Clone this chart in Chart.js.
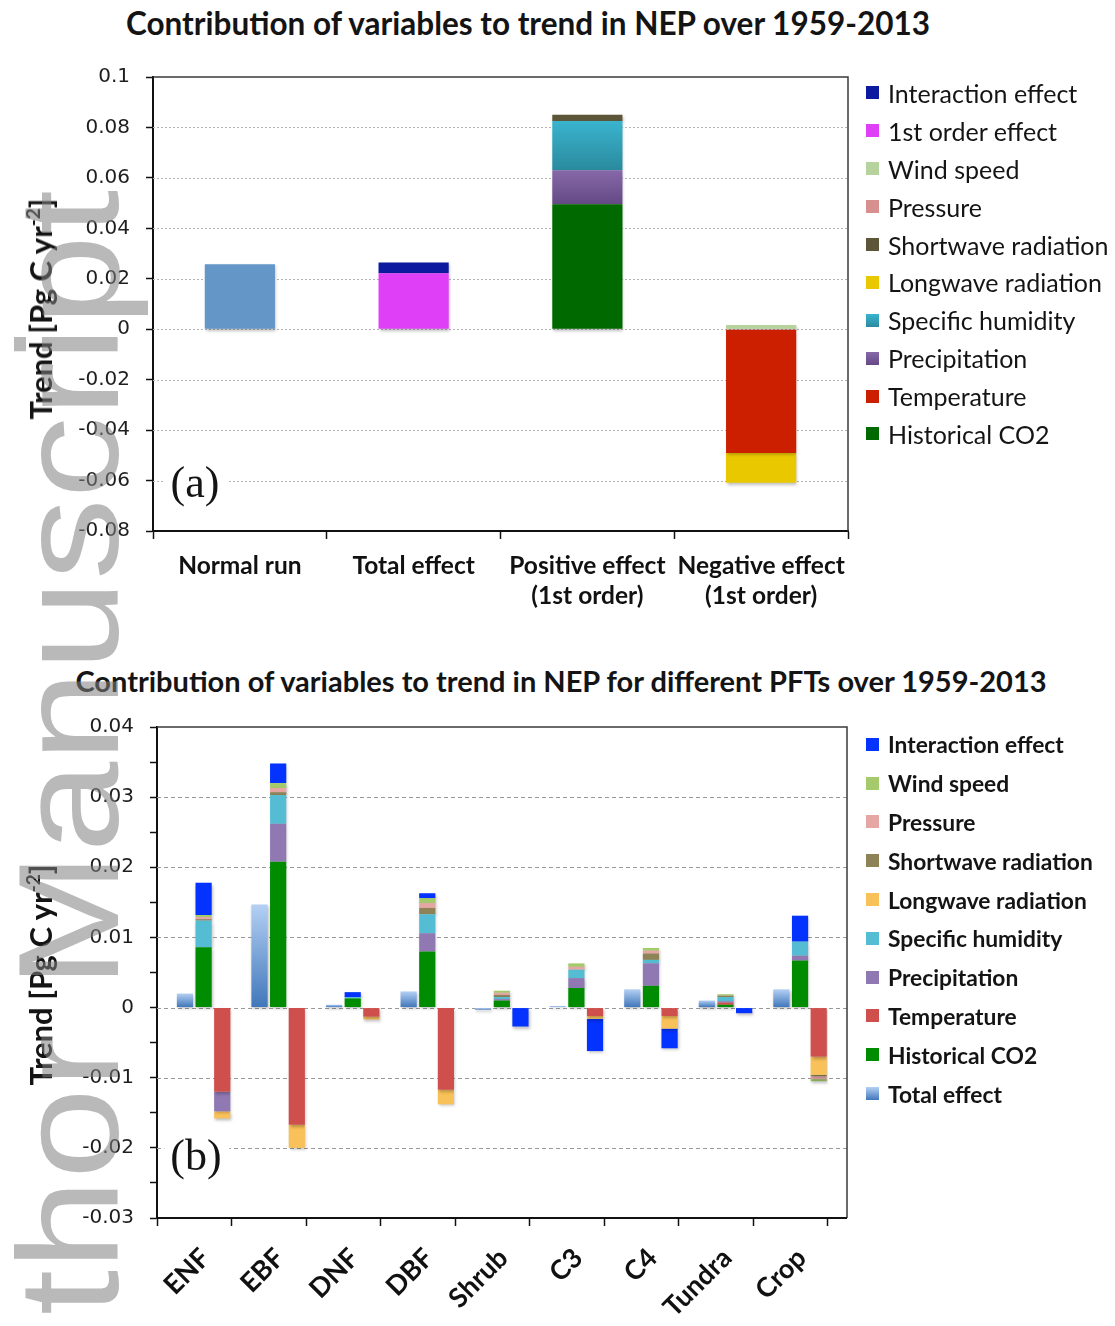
<!DOCTYPE html>
<html>
<head>
<meta charset="utf-8">
<title>Contribution of variables to trend in NEP</title>
<script src="https://cdn.jsdelivr.net/npm/chart.js@4/dist/chart.umd.min.js"></script>
<style>
  html, body { margin: 0; padding: 0; background: #fff; }
  body { position: relative; width: 1115px; height: 1326px; overflow: hidden;
         font-family: Lato, "Open Sans", sans-serif; color: #141414; }
  canvas { position: absolute; left: 0; }
  #chartA { top: 40px; }
  #chartB { top: 690px; }
  .title { position: absolute; font-weight: 700; white-space: nowrap;
           transform: translate(-50%, -50%); }
  .ytitle { position: absolute; font-weight: 700; font-size: 31px; white-space: nowrap;
            transform: translate(-50%, -50%) rotate(-90deg); }
  .ytitle sup { font-size: 19px; line-height: 0; vertical-align: 12px; }
  .tag { position: absolute; font-family: "Liberation Serif", serif; font-size: 44px; line-height: 1;
         background: #fff; padding: 2px 8px 4px 6px; transform: translate(-50%, -50%); }
  .legend { position: absolute; left: 866px; }
  .legend .item { display: flex; align-items: center; white-space: nowrap; }
  .legend .sw { width: 13px; height: 13px; margin-right: 9px; flex: none; }
  #legendA { top: 74px; font-size: 25px; }
  #legendA .item { height: 37.9px; }
  #legendB { top: 725px; font-size: 22.8px; font-weight: 700; }
  #legendB .item { height: 38.8px; }
  .watermark { position: absolute; left: 0; top: 0; font-family: "Liberation Sans", Arial, sans-serif;
               font-size: 142px; line-height: 1; white-space: nowrap;
               color: rgba(128,128,128,0.55);
               transform-origin: 0 0; transform: translate(-2px, 1515px) rotate(-90deg) scaleX(1.15);
               pointer-events: none; }
</style>
</head>
<body>
<div class="title" style="left:528px; top:23px; font-size:31.5px;">Contribution of variables to trend in NEP over 1959-2013</div>
<div class="title" style="left:561px; top:680px; font-size:29px;">Contribution of variables to trend in NEP for different PFTs over 1959-2013</div>

<canvas id="chartA" width="870" height="600"></canvas>
<canvas id="chartB" width="870" height="636"></canvas>

<div class="ytitle" style="left:40px; top:309px;">Trend [Pg C yr<sup>-2</sup>]</div>
<div class="ytitle" style="left:40px; top:975px;">Trend [Pg C yr<sup>-2</sup>]</div>
<div class="tag" style="left:196px; top:484px;">(a)</div>
<div class="tag" style="left:197px; top:1157px;">(b)</div>

<div class="legend" id="legendA"></div>
<div class="legend" id="legendB"></div>

<div class="watermark">Author Manuscript</div>

<script>
// ---------- Panel (a): global NEP trend decomposition ----------
const groupsA = [['Normal run'], ['Total effect'], ['Positive effect', '(1st order)'], ['Negative effect', '(1st order)']];
const normalRunA   = [0.0258, null, null, null];
const co2A         = [null, null, 0.0495, null];
const temperatureA = [null, null, null, -0.0491];
const precipA      = [null, null, 0.0135, null];
const humidityA    = [null, null, 0.0196, null];
const longwaveA    = [null, null, null, -0.0118];
const shortwaveA   = [null, null, 0.0024, null];
const pressureA    = [null, null, null, null];
const windA        = [null, null, null, 0.0017];
const firstOrderA  = [null, 0.0222, null, null];
const interactionA = [null, 0.0043, null, null];
const yTicksA = { min: -0.08, max: 0.1, step: 0.02 };

// ---------- Panel (b): NEP trend decomposition by PFT ----------
const pfts = ['ENF', 'EBF', 'DNF', 'DBF', 'Shrub', 'C3', 'C4', 'Tundra', 'Crop'];
const totalEffect   = [0.0020, 0.0147, 0.0004, 0.0023, -0.0003, 0.0002, 0.0026, 0.0010, 0.0026];
// contributions that raise the trend (stacked upward)
const co2Up         = [0.0086, 0.0208, 0.0013, 0.0080, 0.0010, 0.0028, 0.0031, 0.0004, 0.0067];
const temperatureUp = [0, 0, 0, 0, 0, 0, 0, 0.0003, 0];
const precipUp      = [0, 0.0054, 0, 0.0026, 0.0002, 0.0014, 0.0032, 0.0002, 0.0007];
const humidityUp    = [0.0038, 0.0041, 0.0002, 0.0027, 0.0003, 0.0012, 0.0005, 0.0006, 0.0020];
const shortwaveUp   = [0.0002, 0.0004, 0, 0.0009, 0.0003, 0, 0.0009, 0.0002, 0];
const pressureUp    = [0.0003, 0.0006, 0, 0.0007, 0.0003, 0.0004, 0.0004, 0, 0];
const windUp        = [0.0003, 0.0007, 0, 0.0007, 0.0003, 0.0005, 0.0004, 0.0002, 0];
const interactionUp = [0.0046, 0.0028, 0.0007, 0.0007, 0, 0, 0, 0, 0.0037];
// contributions that lower the trend (stacked downward)
const temperatureDown = [-0.0120, -0.0167, -0.0013, -0.0117, 0, -0.0012, -0.0012, 0, -0.0070];
const precipDown      = [-0.0028, 0, 0, 0, 0, 0, 0, 0, 0];
const longwaveDown    = [-0.0010, -0.0033, -0.0004, -0.0021, 0, -0.0004, -0.0018, 0, -0.0026];
const shortwaveDown   = [0, 0, 0, 0, 0, 0, 0, 0, -0.0002];
const pressureDown    = [0, 0, 0, 0, 0, 0, 0, 0, -0.0004];
const windDown        = [0, 0, 0, 0, 0, 0, 0, 0, -0.0003];
const interactionDown = [0, 0, 0, 0, -0.0027, -0.0046, -0.0028, -0.0008, 0];
const yTicksB = { min: -0.03, max: 0.04, step: 0.005, major: 0.01 };

// ---------- drawing helpers ----------
const fmt = v => String(Number(v.toFixed(3)));

// vertical gradient per bar for datasets that carry a `grad` pair
const gradientFill = {
  id: 'gradientFill',
  afterDatasetsUpdate(chart) {
    const ctx = chart.ctx;
    chart.data.datasets.forEach((ds, i) => {
      if (!ds.grad) return;
      chart.getDatasetMeta(i).data.forEach(el => {
        const top = Math.min(el.y, el.base), bot = Math.max(el.y, el.base);
        if (!(bot - top > 0.5)) return;
        const g = ctx.createLinearGradient(0, top, 0, bot);
        g.addColorStop(0, ds.grad[0]);
        g.addColorStop(1, ds.grad[1]);
        el.options = Object.assign({}, el.options, { backgroundColor: g });
      });
    });
  }
};

// soft drop shadow under the bars
const barShadow = {
  id: 'barShadow',
  beforeDatasetsDraw(chart) {
    const c = chart.ctx;
    c.save();
    c.shadowColor = 'rgba(0,0,0,0.25)';
    c.shadowBlur = 3;
    c.shadowOffsetX = 1;
    c.shadowOffsetY = 2;
  },
  afterDatasetsDraw(chart) { chart.ctx.restore(); }
};

// grid lines and the plot frame (frame may run past the category axis)
const plotFrame = {
  id: 'plotFrame',
  beforeDatasetsDraw(chart, args, o) {
    const { ctx, chartArea: a } = chart;
    const y = chart.scales.y;
    const right = a.right + o.extend;
    ctx.save();
    ctx.strokeStyle = o.gridColor;
    ctx.lineWidth = o.gridWidth;
    ctx.setLineDash(o.dash);
    for (const t of y.ticks) {
      const r = t.value / o.majorStep;
      if (Math.abs(r - Math.round(r)) > 1e-6) continue;
      if (t.value >= y.max - 1e-9 || t.value <= y.min + 1e-9) continue;
      const py = Math.round(y.getPixelForValue(t.value)) + 0.5;
      ctx.beginPath(); ctx.moveTo(a.left, py); ctx.lineTo(right, py); ctx.stroke();
    }
    ctx.restore();
  },
  afterDraw(chart, args, o) {
    const { ctx, chartArea: a } = chart;
    const right = a.right + o.extend;
    ctx.save();
    ctx.strokeStyle = o.frameColor;
    ctx.lineWidth = o.frameWidth;
    ctx.beginPath();
    ctx.moveTo(a.left, a.top); ctx.lineTo(right, a.top); ctx.lineTo(right, a.bottom);
    ctx.stroke();
    if (o.extend > 0) {
      ctx.strokeStyle = '#111';
      ctx.lineWidth = 2;
      ctx.beginPath(); ctx.moveTo(a.right - 1, a.bottom); ctx.lineTo(right, a.bottom); ctx.stroke();
    }
    ctx.restore();
  }
};

function buildLegend(id, entries) {
  const box = document.getElementById(id);
  entries.forEach(e => {
    const item = document.createElement('div');
    item.className = 'item';
    const sw = document.createElement('span');
    sw.className = 'sw';
    sw.style.background = e.grad ? `linear-gradient(${e.grad[0]}, ${e.grad[1]})` : e.color;
    item.appendChild(sw);
    item.appendChild(document.createTextNode(e.label));
    box.appendChild(item);
  });
}

const tickFont = { family: '"DejaVu Sans", Verdana, sans-serif', size: 20 };

// ---------- Panel (a) ----------
const seriesA = [
  { label: 'Normal run',          data: normalRunA,   color: '#6496c8', legend: false },
  { label: 'Historical CO2',      data: co2A,         color: '#006a00' },
  { label: 'Temperature',         data: temperatureA, color: '#cc1f00' },
  { label: 'Precipitation',       data: precipA,      color: '#775898', grad: ['#8768a9', '#644984'] },
  { label: 'Specific humidity',   data: humidityA,    color: '#2fa3bd', grad: ['#3ab4cf', '#2a8a9d'] },
  { label: 'Longwave radiation',  data: longwaveA,    color: '#e9c800' },
  { label: 'Shortwave radiation', data: shortwaveA,   color: '#5d5537' },
  { label: 'Pressure',            data: pressureA,    color: '#d8908e' },
  { label: 'Wind speed',          data: windA,        color: '#b7d39d' },
  { label: '1st order effect',    data: firstOrderA,  color: '#e03ff8' },
  { label: 'Interaction effect',  data: interactionA, color: '#0b1a9e' }
];

new Chart(document.getElementById('chartA'), {
  type: 'bar',
  data: {
    labels: groupsA,
    datasets: seriesA.map(s => ({
      label: s.label, data: s.data, stack: 'all', grad: s.grad,
      backgroundColor: s.color, borderWidth: 0,
      categoryPercentage: 1.0, barPercentage: 0.404
    }))
  },
  options: {
    responsive: false, animation: false, events: [],
    layout: { padding: { left: 0, top: 37, right: 22, bottom: 0 } },
    plugins: {
      legend: { display: false }, tooltip: { enabled: false },
      plotFrame: { extend: 0, majorStep: yTicksA.step, gridColor: '#b4b4b4', gridWidth: 1,
                   dash: [2, 2], frameColor: '#3a3a3a', frameWidth: 1.5 }
    },
    scales: {
      x: {
        stacked: true,
        afterFit: s => { s.height = 109; },
        grid: { drawOnChartArea: false, drawTicks: true, tickLength: 8, tickColor: '#111', tickWidth: 1.5 },
        border: { display: true, color: '#111', width: 2 },
        ticks: { color: '#111', padding: 12, maxRotation: 0, autoSkip: false,
                 font: { family: 'Lato, sans-serif', weight: 'bold', size: 24.5, lineHeight: '30px' } }
      },
      y: {
        stacked: true,
        min: yTicksA.min, max: yTicksA.max,
        afterFit: s => { s.width = 153; },
        grid: { drawOnChartArea: false, drawTicks: true, tickLength: 7, tickColor: '#111', tickWidth: 1.5 },
        border: { display: true, color: '#111', width: 2 },
        ticks: { stepSize: yTicksA.step, color: '#1e1e1e', padding: 16, font: tickFont,
                 callback: v => fmt(v) }
      }
    }
  },
  plugins: [plotFrame, gradientFill, barShadow]
});

buildLegend('legendA', seriesA.filter(s => s.legend !== false).reverse());

// ---------- Panel (b) ----------
const varsB = [
  { label: 'Historical CO2',      color: '#008c00', up: co2Up },
  { label: 'Temperature',         color: '#cf4f4c', up: temperatureUp, down: temperatureDown },
  { label: 'Precipitation',       color: '#9079b3', up: precipUp,      down: precipDown },
  { label: 'Specific humidity',   color: '#55bdd3', up: humidityUp },
  { label: 'Longwave radiation',  color: '#f9c159', down: longwaveDown },
  { label: 'Shortwave radiation', color: '#8e8257', up: shortwaveUp,   down: shortwaveDown },
  { label: 'Pressure',            color: '#e6a6a4', up: pressureUp,    down: pressureDown },
  { label: 'Wind speed',          color: '#a4ca6c', up: windUp,        down: windDown },
  { label: 'Interaction effect',  color: '#0433ff', up: interactionUp, down: interactionDown }
];
const totalStyle = { label: 'Total effect', color: '#6f9fd8', grad: ['#b4d0f4', '#4177ba'] };

const barOpts = { borderWidth: 0, categoryPercentage: 1.0, barPercentage: 0.87 };
const datasetsB = [
  // empty leading slot so each group of three bars sits right of its category centre
  Object.assign({ label: '', data: pfts.map(() => null), stack: 'lead' }, barOpts),
  Object.assign({ label: totalStyle.label, data: totalEffect, stack: 'total',
                  backgroundColor: totalStyle.color, grad: totalStyle.grad }, barOpts)
];
varsB.filter(v => v.up).forEach(v => datasetsB.push(Object.assign(
  { label: v.label, data: v.up, stack: 'up', backgroundColor: v.color }, barOpts)));
varsB.filter(v => v.down).forEach(v => datasetsB.push(Object.assign(
  { label: v.label, data: v.down, stack: 'down', backgroundColor: v.color }, barOpts)));

new Chart(document.getElementById('chartB'), {
  type: 'bar',
  data: { labels: pfts, datasets: datasetsB },
  options: {
    responsive: false, animation: false, events: [],
    layout: { padding: { left: 0, top: 37, right: 42, bottom: 0 } },
    plugins: {
      legend: { display: false }, tooltip: { enabled: false },
      plotFrame: { extend: 19, majorStep: yTicksB.major, gridColor: '#9a9a9a', gridWidth: 1.2,
                   dash: [4, 3], frameColor: '#3a3a3a', frameWidth: 1.5 }
    },
    scales: {
      x: {
        stacked: true,
        afterFit: s => { s.height = 108; },
        grid: { drawOnChartArea: false, drawTicks: true, tickLength: 8, tickColor: '#111', tickWidth: 1.5 },
        border: { display: true, color: '#111', width: 2 },
        ticks: { color: '#111', padding: 16, labelOffset: 11, minRotation: 45, maxRotation: 45, autoSkip: false,
                 font: { family: 'Lato, sans-serif', weight: 'bold', size: 27 } }
      },
      y: {
        stacked: true,
        min: yTicksB.min, max: yTicksB.max,
        afterFit: s => { s.width = 157; },
        grid: { drawOnChartArea: false, drawTicks: true, tickLength: 7, tickColor: '#111', tickWidth: 1.5 },
        border: { display: true, color: '#111', width: 2 },
        ticks: { stepSize: yTicksB.step, color: '#1e1e1e', padding: 16, font: tickFont, autoSkip: false,
                 callback: v => {
                   const r = v / yTicksB.major;
                   return Math.abs(r - Math.round(r)) < 1e-6 ? fmt(v) : '';
                 } }
      }
    }
  },
  plugins: [plotFrame, gradientFill, barShadow]
});

buildLegend('legendB', [totalStyle].concat(varsB).reverse());
</script>
</body>
</html>
